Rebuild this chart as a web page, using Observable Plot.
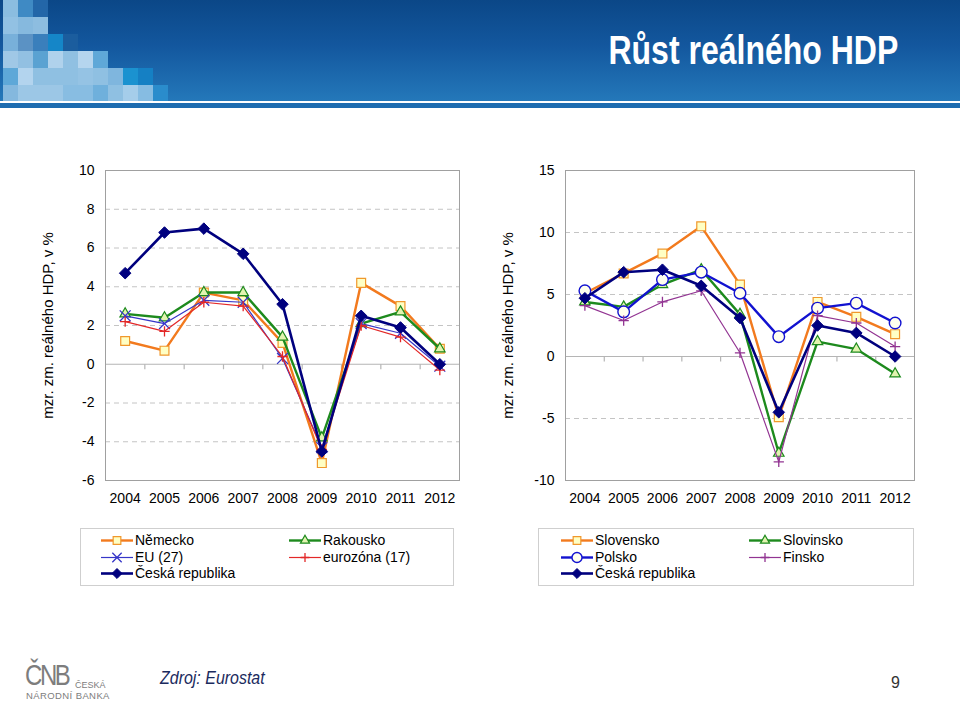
<!DOCTYPE html>
<html><head><meta charset="utf-8">
<script src="https://cdn.jsdelivr.net/npm/d3@7"></script>
<script src="https://cdn.jsdelivr.net/npm/@observablehq/plot@0.6"></script>
<style>
html,body{margin:0;padding:0;}
body{width:960px;height:701px;position:relative;overflow:hidden;background:#fff;font-family:"Liberation Sans",Arial,sans-serif;color:#000;}
#banner{position:absolute;left:0;top:0;width:960px;height:101px;background:linear-gradient(180deg,#0b4787 0%,#13579e 45%,#2478ba 100%);overflow:hidden;}
#strip{position:absolute;left:0;top:103px;width:960px;height:5px;background:#1d6cb0;}
.cell{position:absolute;width:15px;height:17px;}
#title{position:absolute;right:62px;top:30px;font-size:40px;font-weight:bold;color:#fff;line-height:1;white-space:nowrap;transform:scaleX(0.8);transform-origin:right center;}
.chart{position:absolute;top:150px;}
.legend{position:absolute;top:528px;height:56px;border:1px solid #cfcfcf;background:#fff;}
.entry{position:absolute;font-size:14px;line-height:16px;white-space:nowrap;}
.entry svg{position:absolute;left:0;top:0;}
.entry span{position:absolute;top:0;}
#source{position:absolute;left:160px;top:667px;font-size:19px;font-style:italic;color:#1b2b5e;transform:scaleX(0.84);transform-origin:left center;white-space:nowrap;}
#page{position:absolute;left:891px;top:674px;font-size:16px;color:#333;}
#logo1{position:absolute;left:25px;top:661px;font-size:30px;height:28px;color:#7d7d7d;letter-spacing:-3px;transform:scaleX(0.8);transform-origin:left;line-height:28px;overflow:visible;}
#logo2{position:absolute;left:75px;top:681px;font-size:9px;color:#7d7d7d;line-height:9px;}
#logo3{position:absolute;left:26px;top:691px;font-size:9.5px;color:#7d7d7d;line-height:10px;letter-spacing:0.4px;}
</style>
</head><body>
<div id="banner"></div>
<div id="strip"></div>
<div id="title">Růst reálného HDP</div>
<div id="left" class="chart" style="left:0px"></div>
<div id="right" class="chart" style="left:460px"></div>
<div id="legL" class="legend" style="left:80px;width:372px"></div>
<div id="legR" class="legend" style="left:538px;width:374px"></div>
<div id="logo1">ČNB</div>
<div id="logo2">ČESKÁ</div>
<div id="logo3">NÁRODNÍ BANKA</div>
<div id="source">Zdroj: Eurostat</div>
<div id="page">9</div>
<script>
// ---------- data ----------
const years = [2004, 2005, 2006, 2007, 2008, 2009, 2010, 2011, 2012];
const nemecko        = [1.2, 0.7, 3.7, 3.3, 1.1, -5.1, 4.2, 3.0, 0.8];
const rakousko       = [2.6, 2.4, 3.7, 3.7, 1.4, -3.8, 2.1, 2.7, 0.8];
const eu27           = [2.5, 2.1, 3.3, 3.2, 0.3, -4.3, 2.1, 1.6, -0.1];
const eurozona17     = [2.2, 1.7, 3.2, 3.0, 0.4, -4.4, 2.0, 1.4, -0.3];
const ceskaRepublika = [4.7, 6.8, 7.0, 5.7, 3.1, -4.5, 2.5, 1.9, 0.0];
const slovensko      = [5.1, 6.7, 8.3, 10.5, 5.8, -4.9, 4.4, 3.2, 1.8];
const slovinsko      = [4.4, 4.0, 5.8, 7.0, 3.4, -7.8, 1.2, 0.6, -1.4];
const polsko         = [5.3, 3.6, 6.2, 6.8, 5.1, 1.6, 3.9, 4.3, 2.7];
const finsko         = [4.1, 2.9, 4.4, 5.3, 0.3, -8.5, 3.3, 2.7, 0.8];
const leftTicks  = [-6, -4, -2, 0, 2, 4, 6, 8, 10];
const rightTicks = [-10, -5, 0, 5, 10, 15];
const yTitle = "mzr. zm. reálného HDP, v %";

// ---------- styles ----------
const STY = {
  orange: {line:"#f27a1e", w:2.4, symbol:"square",   r:5.0, fill:"#ffffc4", mstroke:"#f0982c", mw:1.2},
  green:  {line:"#1d8a1d", w:2.4, symbol:"triangle", r:3.9, fill:"#e2f4b0", mstroke:"#1d8a1d", mw:1.2},
  euBlue: {line:"#3636c8", w:1.2, symbol:"times",    r:5.0, fill:"none",    mstroke:"#3636c8", mw:1.3},
  red:    {line:"#e32828", w:1.2, symbol:"plus",     r:3.4, fill:"none",    mstroke:"#e32828", mw:1.3},
  navy:   {line:"#00007e", w:2.6, symbol:"diamond2", r:5.2, fill:"#00007e", mstroke:"#00007e", mw:1},
  blue:   {line:"#1212d0", w:2.4, symbol:"circle",   r:5.8, fill:"#ffffee", mstroke:"#1212d0", mw:1.4},
  purple: {line:"#923492", w:1.2, symbol:"plus",     r:3.4, fill:"none",    mstroke:"#923492", mw:1.3}
};

const leftSeries = [
  {name:"Německo", values:nemecko, style:"orange"},
  {name:"Rakousko", values:rakousko, style:"green"},
  {name:"EU (27)", values:eu27, style:"euBlue"},
  {name:"eurozóna (17)", values:eurozona17, style:"red"},
  {name:"Česká republika", values:ceskaRepublika, style:"navy"}
];
const rightSeries = [
  {name:"Slovensko", values:slovensko, style:"orange"},
  {name:"Slovinsko", values:slovinsko, style:"green"},
  {name:"Polsko", values:polsko, style:"blue"},
  {name:"Finsko", values:finsko, style:"purple"},
  {name:"Česká republika", values:ceskaRepublika, style:"navy"}
];

const boundaries = years.slice(1).map(y => y - 0.5);
const tickMark = {draw(ctx){ ctx.moveTo(0, 0); ctx.lineTo(0, 5); }};

function makeChart(series, yTicks, width, marginRight) {
  const yDomain = [yTicks[0], yTicks[yTicks.length - 1]];
  const rows = series.flatMap(s => years.map((year, i) => ({name: s.name, year, value: s.values[i]})));
  const grid = yTicks.filter(t => t !== 0 && t !== yDomain[0] && t !== yDomain[1]);
  const marks = [
    Plot.ruleY(grid, {stroke:"#c4c4c4", strokeDasharray:"5,4"}),
    Plot.ruleY([0], {stroke:"#b5b5b5", strokeWidth:1.2}),
    Plot.dot(boundaries, {x: d => d, y: () => 0, symbol: tickMark, r: 2, fill: "none", stroke: "#b5b5b5", strokeWidth: 1.2}),
    Plot.frame({stroke:"#a0a0a0"})
  ];
  for (const s of series) {
    const st = STY[s.style];
    const d = rows.filter(r => r.name === s.name);
    marks.push(Plot.line(d, {x:"year", y:"value", stroke: st.line, strokeWidth: st.w, strokeLinejoin:"round"}));
    marks.push(Plot.dot(d, {x:"year", y:"value", symbol: st.symbol, r: st.r, fill: st.fill, stroke: st.mstroke, strokeWidth: st.mw}));
  }
  marks.push(
    Plot.axisX({ticks: years, tickFormat: d => String(d), tickSize: 0, tickPadding: 13, label: null}),
    Plot.axisY({ticks: yTicks, tickFormat: d => String(d), tickSize: 0, tickPadding: 11, label: null}),
    Plot.text([yTitle], {frameAnchor: "left", textAnchor: "middle", rotate: -90, dx: -57, text: d => d, fontSize: 15, fill: "#000"})
  );
  return Plot.plot({
    width, height: 370,
    marginLeft: 105, marginRight, marginTop: 20, marginBottom: 40,
    x: {domain: [years[0] - 0.5, years[years.length - 1] + 0.5]},
    y: {domain: yDomain},
    style: {fontFamily: '"Liberation Sans", Arial, sans-serif', fontSize: "14px", color: "#000", background: "transparent", overflow: "visible"},
    marks
  });
}

document.getElementById("left").append(makeChart(leftSeries, leftTicks, 470, 11));
document.getElementById("right").append(makeChart(rightSeries, rightTicks, 470, 16));

// ---------- legends ----------
const symMap = {square: d3.symbolSquare, triangle: d3.symbolTriangle, times: d3.symbolTimes, plus: d3.symbolPlus, diamond2: d3.symbolDiamond2, circle: d3.symbolCircle};
function entry(container, s, x, y) {
  const st = STY[s.style];
  const div = document.createElement("div");
  div.className = "entry";
  div.style.left = x + "px"; div.style.top = y + "px";
  const path = d3.symbol(symMap[st.symbol], Math.PI * st.r * st.r * 0.75)();
  div.innerHTML = `<svg width="34" height="16"><line x1="1" x2="33" y1="8.5" y2="8.5" stroke="${st.line}" stroke-width="${st.w}"/>` +
    `<path d="${path}" transform="translate(17,8.5)" fill="${st.fill}" stroke="${st.mstroke}" stroke-width="${st.mw}"/></svg>` +
    `<span style="left:35px">${s.name}</span>`;
  container.append(div);
}
const legL = document.getElementById("legL");
const legR = document.getElementById("legR");
const pos = [[19, 3], [207, 3], [19, 19.5], [207, 19.5], [19, 36]];
// legend order in Excel: row-wise
leftSeries.forEach((s, i) => entry(legL, s, pos[i][0], pos[i][1]));
rightSeries.forEach((s, i) => entry(legR, s, pos[i][0] + 2, pos[i][1]));

// ---------- header mosaic (decoration) ----------
const mosaic = [
  ["#8bbde0", "#3f8ac4", "#2366a8"],
  ["#92c1e3", "#86b9de", "#8dbde0"],
  ["#78b0da", "#5b92c4", "#3a7fbc", "#1586c8", "#1b5d9e"],
  ["#a0c8e6", "#92c0e2", "#5aa2d2", "#b0d2ec", "#90c0e2", "#b5d5ee", "#5fa8d8"],
  ["#5ea8d8", "#b3d4ee", "#8fc0e2", "#8fc0e2", "#8fc0e2", "#95c3e4", "#8fc0e2", "#7fb6de", "#1b92d0", "#1580c4"],
  ["#84b8de", "#9cc7e6", "#9cc7e6", "#9cc7e6", "#88bde2", "#88bde2", "#6fb0dc", "#8fc0e2", "#a5cdea", "#86bce2", "#2a8ccc"]
];
const banner = document.getElementById("banner");
mosaic.forEach((row, r) => row.forEach((c, k) => {
  const d = document.createElement("div");
  d.className = "cell";
  d.style.left = (3 + k * 15) + "px";
  d.style.top = (r * 17) + "px";
  d.style.background = c;
  banner.append(d);
}));
</script>
</body></html>
